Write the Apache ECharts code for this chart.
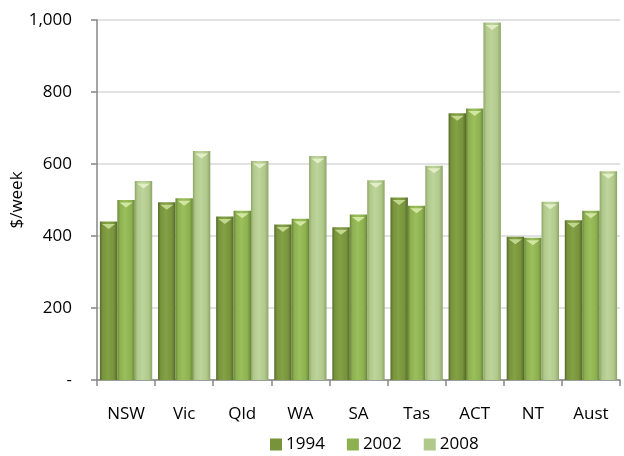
<!DOCTYPE html>
<html>
<head>
<meta charset="utf-8">
<script src="https://cdn.jsdelivr.net/npm/echarts@6/dist/echarts.min.js"></script>
<style>
html,body{margin:0;padding:0;background:#fff;}
#chart{width:624px;height:456px;}
</style>
</head>
<body>
<div id="chart"></div>
<script>
// Average weekly earnings by state, $/week
const categories = ['NSW', 'Vic', 'Qld', 'WA', 'SA', 'Tas', 'ACT', 'NT', 'Aust'];
const years = ['1994', '2002', '2008'];
const values1994 = [440, 494, 454, 432, 424, 507, 741, 398, 444];
const values2002 = [500, 505, 470, 448, 460, 484, 754, 395, 470];
const values2008 = [553, 636, 608, 622, 555, 595, 993, 495, 580];

const FONT = '"Open Sans", sans-serif';
const baseColors = ['#77933C', '#8DB050', '#B0C98A'];
const edgeColors = ['#56692A', '#6A8638', '#8DA468'];
const hiColors = ['#84A145', '#9CBF5C', '#BDD49C'];
const capColors = ['#C2D78E', '#D1E6A0', '#E2EEC6'];

function shade(i) {
  return new echarts.graphic.LinearGradient(0, 0, 1, 0, [
    { offset: 0, color: edgeColors[i] },
    { offset: 0.15, color: baseColors[i] },
    { offset: 0.45, color: hiColors[i] },
    { offset: 0.8, color: baseColors[i] },
    { offset: 1, color: edgeColors[i] }
  ]);
}

const seriesData = [values1994, values2002, values2008];

// main columns
const bars = seriesData.map((d, i) => ({
  name: years[i],
  type: 'bar',
  data: d,
  barGap: '0%',
  barCategoryGap: '10%',
  itemStyle: { color: shade(i) }
}));

// light bevelled caps on top of each column
const caps = seriesData.map((d, i) => ({
  name: 'cap' + years[i],
  type: 'pictorialBar',
  data: d,
  barGap: '0%',
  barCategoryGap: '10%',
  symbol: 'triangle',
  symbolRotate: 180,
  symbolPosition: 'end',
  symbolSize: ['75%', 5],
  symbolOffset: [0, '50%'],
  itemStyle: { color: capColors[i] },
  z: 3,
  silent: true
}));

const chart = echarts.init(document.getElementById('chart'), null, { renderer: 'canvas' });
chart.setOption({
  animation: false,
  backgroundColor: '#ffffff',
  textStyle: { fontFamily: FONT },
  grid: { left: 97, right: 4, top: 20, bottom: 76, containLabel: false, outerBoundsMode: 'none' },
  legend: {
    data: years.map((y, i) => ({ name: y, itemStyle: { color: baseColors[i] } })),
    top: 431,
    left: 265,
    itemWidth: 12,
    itemHeight: 12,
    itemGap: 22,
    icon: 'rect',
    textStyle: { fontSize: 17, color: '#000', fontFamily: FONT, padding: [0, 0, 0, -1] }
  },
  xAxis: {
    type: 'category',
    data: categories,
    axisLine: { lineStyle: { color: '#868686', width: 1.5 } },
    axisTick: { show: true, length: 6, lineStyle: { color: '#868686', width: 1.5 } },
    axisLabel: { fontSize: 17, color: '#000', margin: 26, fontFamily: FONT }
  },
  yAxis: {
    type: 'value',
    min: 0,
    max: 1000,
    interval: 200,
    name: '$/week',
    nameLocation: 'middle',
    nameGap: 71,
    nameRotate: 90,
    nameMoveOverlap: false,
    nameTextStyle: { fontSize: 17, color: '#000', fontFamily: FONT },
    axisLine: { show: true, lineStyle: { color: '#868686', width: 1.5 } },
    axisTick: { show: true, length: 6, lineStyle: { color: '#868686', width: 1.5 } },
    splitLine: { lineStyle: { color: '#D9D9D9', width: 1.5 } },
    axisLabel: {
      fontSize: 17,
      color: '#000',
      margin: 25,
      fontFamily: FONT,
      formatter: v => v === 0 ? '-' : v.toLocaleString('en-US')
    }
  },
  series: bars.concat(caps)
});
</script>
</body>
</html>
